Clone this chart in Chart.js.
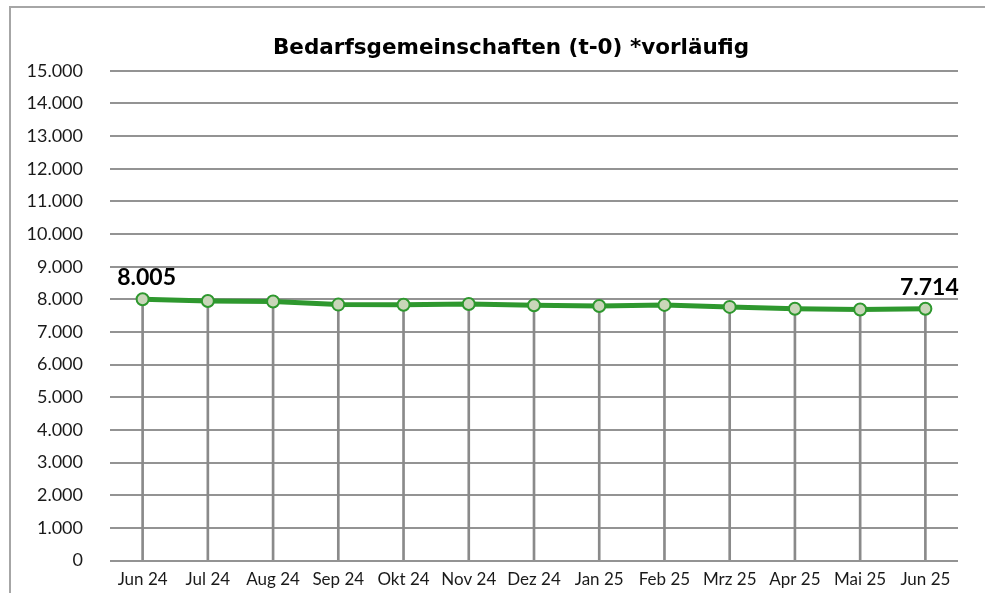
<!DOCTYPE html>
<html><head><meta charset="utf-8">
<script src="https://cdn.jsdelivr.net/npm/chart.js@4/dist/chart.umd.min.js"></script>
<style>
html,body{margin:0;padding:0;background:#fff;overflow:hidden;width:985px;height:593px;}
#frame{position:absolute;left:9px;top:6px;width:1000px;height:620px;border-left:2px solid #a6a6a6;border-top:2px solid #a6a6a6;}
canvas{display:block;}
</style></head>
<body>
<div id="frame"><canvas id="c" width="1000" height="600"></canvas></div>
<script>
const categories = ['Jun 24','Jul 24','Aug 24','Sep 24','Okt 24','Nov 24','Dez 24','Jan 25','Feb 25','Mrz 25','Apr 25','Mai 25','Jun 25'];
const bedarfsgemeinschaften = [8005, 7950, 7935, 7840, 7835, 7860, 7820, 7795, 7830, 7770, 7715, 7690, 7714];
const labeledIndexes = [0, 12];
const yMin = 0, yMax = 15000, yStep = 1000;
const titleText = 'Bedarfsgemeinschaften (t-0) *vorläufig';

const fmt = v => String(Math.round(v)).replace(/\B(?=(\d{3})+(?!\d))/g, '.');

const labelPlugin = {
  id: 'endLabels',
  afterDatasetsDraw(chart) {
    const meta = chart.getDatasetMeta(0);
    const ctx = chart.ctx;
    ctx.save();
    ctx.font = 'bold 23px Lato';
    ctx.fillStyle = '#000';
    ctx.textAlign = 'center';
    ctx.textBaseline = 'bottom';
    labeledIndexes.forEach(i => {
      const p = meta.data[i];
      ctx.fillText(fmt(bedarfsgemeinschaften[i]), p.x + 4, p.y - 10);
    });
    ctx.restore();
  }
};

new Chart(document.getElementById('c'), {
  type: 'bar',
  data: {
    labels: categories,
    datasets: [
      {
        type: 'line',
        data: bedarfsgemeinschaften,
        borderColor: '#2e982e',
        borderWidth: 5,
        pointRadius: 6,
        pointBorderWidth: 2,
        pointBackgroundColor: '#c9d6b9',
        pointBorderColor: '#2e982e',
        tension: 0,
        order: 0
      },
      {
        type: 'bar',
        data: bedarfsgemeinschaften,
        backgroundColor: '#8a8a8a',
        barThickness: 2,
        order: 1
      }
    ]
  },
  options: {
    responsive: false,
    animation: false,
    layout: { padding: { left: 0, right: 0, top: 0, bottom: 17 } },
    plugins: {
      legend: { display: false },
      tooltip: { enabled: false },
      title: {
        display: true,
        text: titleText,
        color: '#000',
        font: { family: 'DejaVu Sans', size: 21.5, weight: 'bold' },
        padding: { top: 28, bottom: 9 }
      }
    },
    scales: {
      x: {
        grid: { display: false },
        border: { display: false },
        ticks: { color: '#1a1a1a', font: { family: 'Lato', size: 17 }, padding: 1, maxRotation: 0, autoSkip: false }
      },
      y: {
        min: yMin, max: yMax,
        afterFit(scale) { scale.width = 99; },
        grid: { color: '#939393', lineWidth: 2, drawTicks: false },
        border: { display: false },
        ticks: { stepSize: yStep, color: '#1a1a1a', font: { family: 'Lato', size: 18 }, padding: 27, callback: v => fmt(v) }
      },
      yRightSpace: {
        position: 'right',
        display: true,
        afterFit(scale) { scale.width = 53; },
        grid: { display: false, drawTicks: false },
        border: { display: false },
        ticks: { display: false }
      }
    }
  },
  plugins: [labelPlugin]
});
</script>
</body></html>
